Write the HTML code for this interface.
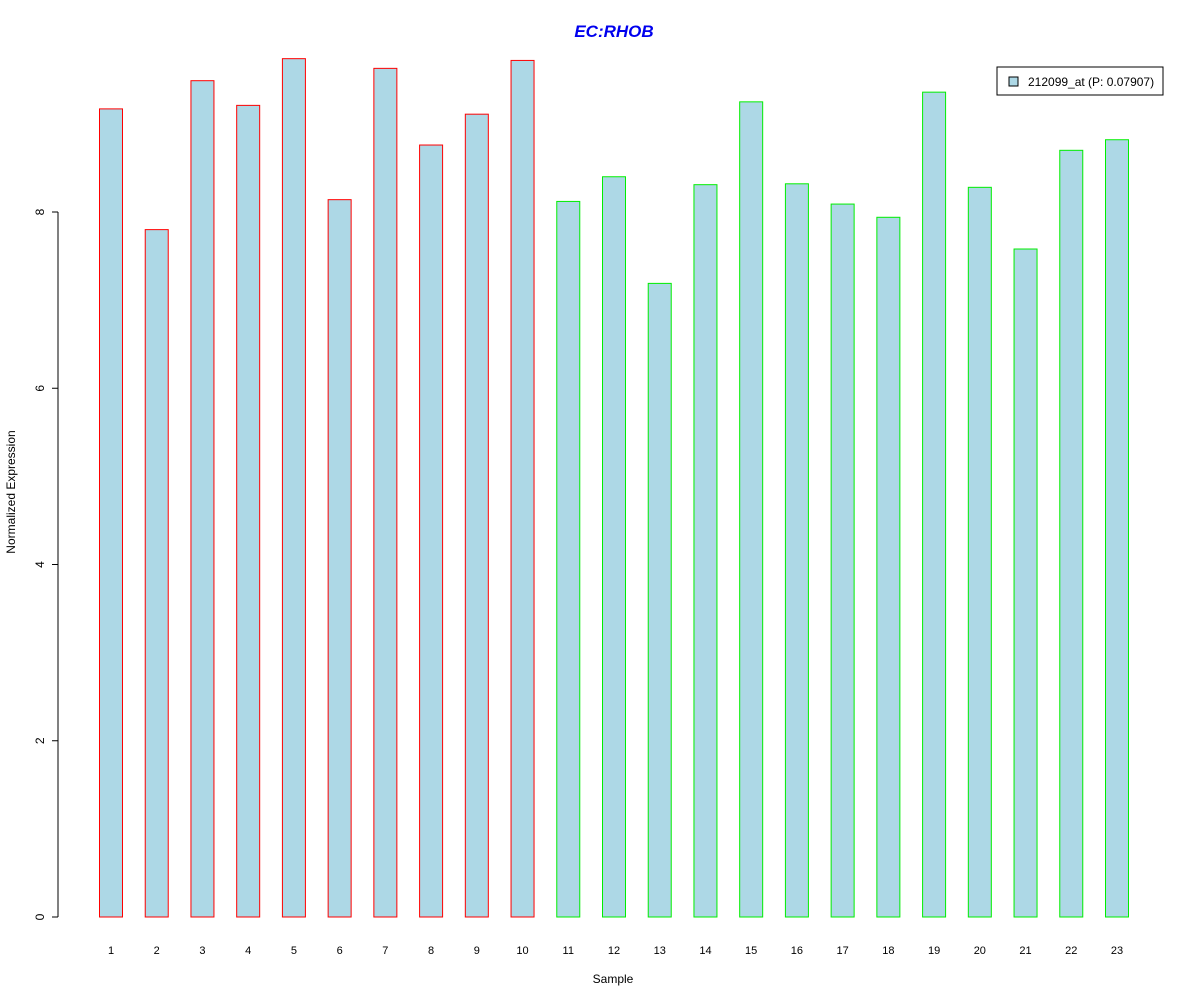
<!DOCTYPE html>
<html><head><meta charset="utf-8"><style>body{margin:0;background:#fff}svg{display:block}</style></head>
<body>
<svg id="chart" width="1200" height="1000" xmlns="http://www.w3.org/2000/svg" font-family="Liberation Sans, Arial, sans-serif">
<rect width="1200" height="1000" fill="#fff"/>
<text x="614" y="37" text-anchor="middle" font-size="17" font-weight="bold" font-style="italic" fill="#0000ee">EC:RHOB</text>
<text transform="translate(15,492) rotate(-90)" text-anchor="middle" font-size="12">Normalized Expression</text>
<text x="613" y="983" text-anchor="middle" font-size="12">Sample</text>
<g id="yaxis"></g>
<g id="bars"></g>
<g id="xlabels"></g>
<g>
<rect x="997" y="67" width="166" height="28" fill="#fff" stroke="#000"/>
<rect x="1009" y="77" width="9" height="9" fill="#add8e6" stroke="#000"/>
<text x="1028" y="86" font-size="12">212099_at (P: 0.07907)</text>
</g>
<script>
const categories = ["1","2","3","4","5","6","7","8","9","10","11","12","13","14","15","16","17","18","19","20","21","22","23"];
const values = [9.17,7.80,9.49,9.21,9.74,8.14,9.63,8.76,9.11,9.72,8.12,8.40,7.19,8.31,9.25,8.32,8.09,7.94,9.36,8.28,7.58,8.70,8.82];
const groups = ["a","a","a","a","a","a","a","a","a","a","b","b","b","b","b","b","b","b","b","b","b","b","b"];
const yTicks = [0,2,4,6,8];
const NS="http://www.w3.org/2000/svg";
const y = v => 917 - v*88.125;
const x = i => 111 + i*(1117-111)/22;
const ya=document.getElementById('yaxis');
function mk(t,a,p){const e=document.createElementNS(NS,t);for(const k in a)e.setAttribute(k,a[k]);p.appendChild(e);return e;}
mk('line',{x1:58,x2:58,y1:y(0),y2:y(8),stroke:'#000'},ya);
yTicks.forEach(v=>{
  const l=mk('line',{x1:52,x2:58,y1:y(v),y2:y(v),stroke:'#000'},ya);
  
  
  const t=mk('text',{transform:`translate(44,${y(v)}) rotate(-90)`,'text-anchor':'middle','font-size':12},ya);
  
  
  t.textContent=v;
});
const bg=document.getElementById('bars'), xl=document.getElementById('xlabels');
values.forEach((v,i)=>{
  const r=mk('rect',{x:x(i)-11.5,y:y(v),width:23,height:y(0)-y(v),fill:'#add8e6',stroke:groups[i]==='a'?'#ff0000':'#00ee00'},bg);
  
  
  const t=mk('text',{x:x(i),y:954,'text-anchor':'middle','font-size':11},xl);
  
  
  t.textContent=categories[i];
});
</script>
</svg>
</body></html>
